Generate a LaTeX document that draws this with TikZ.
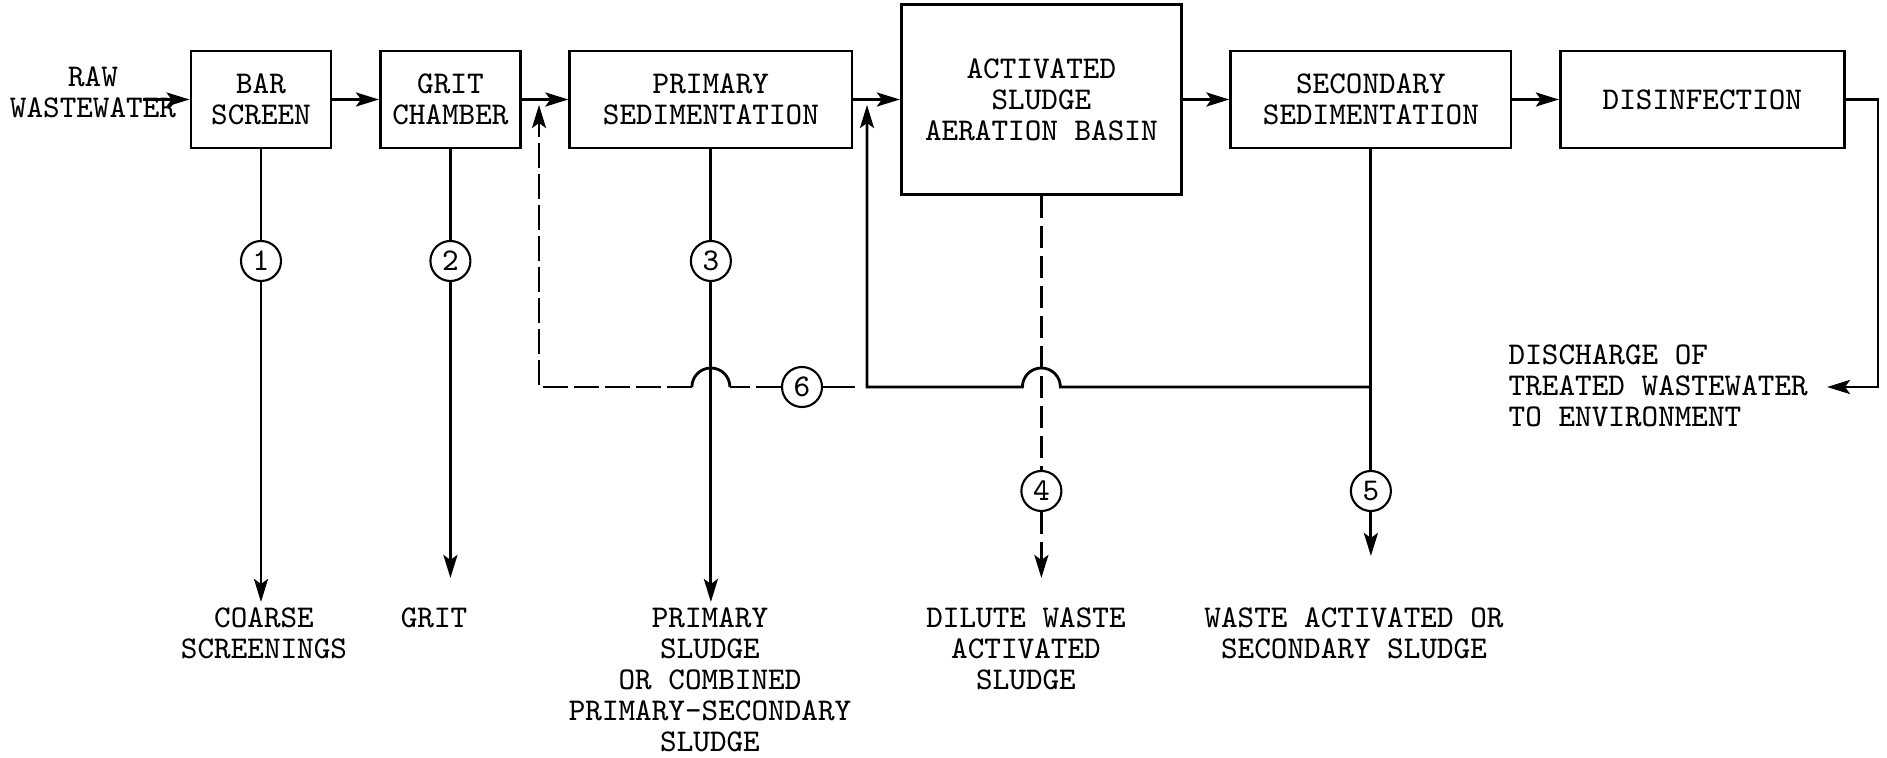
\documentclass[tikz,border=0pt]{standalone}
\usepackage{fontspec}
\usepackage{tikz}
\usetikzlibrary{arrows.meta,positioning}

\begin{document}
\begin{tikzpicture}[
  x=0.01cm, y=-0.01cm,
  font=\ttfamily\fontsize{9}{8.8}\selectfont,
  node distance=0.465cm,
  stage/.style={draw, line width=0.8pt, align=center, minimum width=2.8cm,
                minimum height=0.97cm, inner sep=0pt},
  tag/.style={draw, circle, line width=0.6pt, minimum size=0.4cm, inner sep=0pt},
  note/.style={align=center, inner sep=0pt},
  pipe/.style={line width=0.8pt},
  flow/.style={pipe, -{Stealth[length=2.3mm, width=1.4mm, inset=0.5mm]}},
  recycle/.style={dash pattern=on 0.25cm off 0.06cm},
  waste/.style={dash pattern=on 0.22cm off 0.08cm}
]
\useasboundingbox (0,0) rectangle (1887,758);

\node[stage, minimum width=1.4cm] (bar) at (261,99.5) {BAR\\SCREEN};
\node[stage, minimum width=1.4cm, right=of bar] (grit) {GRIT\\CHAMBER};
\node[stage, minimum width=2.82cm, right=of grit] (prim) {PRIMARY\\SEDIMENTATION};
\node[stage, minimum height=1.9cm, right=of prim] (aer) {ACTIVATED\\SLUDGE\\AERATION BASIN};
\node[stage, right=of aer] (sec) {SECONDARY\\SEDIMENTATION};
\node[stage, minimum width=2.84cm, right=of sec] (dis) {DISINFECTION};

\node[note] (raw) at (93,92) {RAW\\WASTEWATER};
\coordinate (rawin) at (143,99.5);

\draw[flow] (rawin) -- (bar);
\draw[flow] (bar) -- (grit);
\draw[flow] (grit) -- (prim);
\draw[flow] (prim) -- (aer);
\draw[flow] (aer) -- (sec);
\draw[flow] (sec) -- (dis);

\node[tag] (n1) at (bar.south |- 0,261) {1};
\node[tag] (n2) at (grit.south |- 0,261) {2};
\node[tag] (n3) at (prim.south |- 0,261) {3};
\node[tag] (n4) at (aer.south |- 0,491) {4};
\node[tag] (n5) at (sec.south |- 0,491) {5};
\node[tag] (n6) at (802,387) {6};

\coordinate (o1) at (bar.south |- 0,602);
\coordinate (o2) at (grit.south |- 0,578);
\coordinate (o3) at (prim.south |- 0,602);
\coordinate (o4) at (aer.south |- 0,578);
\coordinate (o5) at (sec.south |- 0,556);

\draw[flow] (bar) -- (n1) -- (o1);
\draw[flow] (grit) -- (n2) -- (o2);
\draw[flow] (prim) -- (n3) -- (o3);
\draw[flow, waste] (aer) -- (n4) -- (o4);
\draw[flow] (sec) -- (n5) -- (o5);

\coordinate (j5) at (sec.south |- 0,387);
\coordinate (j6) at (867,387);
\coordinate (j7) at (539,387);
\coordinate (x4) at (aer.south |- j5);
\coordinate (x3) at (prim.south |- j5);
\coordinate (up6) at (j6 |- 0,105);
\coordinate (up7) at (j7 |- 0,105);

\draw[flow] (j5) -- ([xshift=0.19cm]x4) arc[start angle=0, end angle=180, radius=0.19cm]
  -- (j6) -- (up6);
\draw[pipe, shorten <=0.12cm] (j6) -- (n6);
\draw[pipe, recycle] (n6) -- ([xshift=0.19cm]x3);
\draw[pipe] ([xshift=0.19cm]x3) arc[start angle=0, end angle=180, radius=0.19cm];
\draw[flow, recycle] ([xshift=-0.19cm]x3) -- (j7) -- (up7);

\coordinate (bend) at (1878,0);
\coordinate (dout) at (1827,387);
\draw[flow] (dis) -- (dis -| bend) -- (bend |- dout) -- (dout);

\node[note, anchor=north] (coarse) at (264,607) {COARSE\\SCREENINGS};
\node[note, anchor=north] (gritout) at (434,607) {GRIT};
\node[note, anchor=north] (primout) at (710,607) {PRIMARY\\SLUDGE\\OR COMBINED\\PRIMARY-SECONDARY\\SLUDGE};
\node[note, anchor=north] (dilute) at (1026,607) {DILUTE WASTE\\ACTIVATED\\SLUDGE};
\node[note, anchor=north] (secout) at (1354,607) {WASTE ACTIVATED OR\\SECONDARY SLUDGE};
\node[note, align=left, anchor=west] (discharge) at (1508,386) {DISCHARGE OF\\TREATED WASTEWATER\\TO ENVIRONMENT};
\end{tikzpicture}
\end{document}
